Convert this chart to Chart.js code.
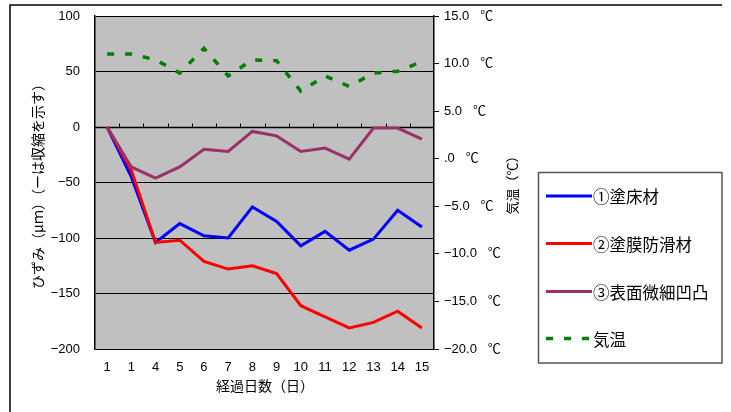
<!DOCTYPE html>
<html>
<head>
<meta charset="utf-8">
<script src="https://cdn.jsdelivr.net/npm/chart.js@4"></script>
<style>
html,body{margin:0;padding:0;background:#fff;}
#wrap{position:relative;width:731px;height:412px;}
</style>
</head>
<body>
<div id="wrap"><canvas id="c" width="731" height="412"></canvas></div>
<script>
const categories = ['1','1','4','5','6','7','8','9','10','11','12','13','14','15'];
const floorCoat = [0,-45,-104,-87,-98,-100,-72,-85,-107,-94,-111,-101,-75,-90];
const antiSlip  = [0,-39,-104,-102,-121,-128,-125,-132,-161,-171,-181,-176,-166,-181];
const microTex  = [0,-36,-46,-36,-20,-22,-4,-8,-22,-19,-29,-1,-1,-11];
const airTemp   = [11.0,11.0,10.4,9.0,11.6,8.7,10.4,10.3,7.1,8.7,7.6,9.0,9.2,10.2];
const strainTicks = [100,50,0,-50,-100,-150,-200];
const tempTicks = [15,10,5,0,-5,-10,-15,-20];
const seriesNames = ['①塗床材','②塗膜防滑材','③表面微細凹凸','気温'];

const NUM_FONT = 'Liberation Sans, Arial, "Noto Sans CJK JP", sans-serif';
const JP_FONT = '"Noto Sans CJK JP", "Liberation Sans", sans-serif';

function fmtStrain(v){ return v < 0 ? '\u2212' + Math.abs(v) : String(v); }
function fmtTemp(v){
  const a = Math.abs(v);
  const s = v === 0 ? '.0' : a.toFixed(1);
  return (v < 0 ? '\u2212' : '') + s + '   \u2103';
}

const decor = {
  id: 'decor',
  beforeDraw(chart){
    const {ctx, chartArea:a} = chart;
    ctx.save();
    ctx.fillStyle = '#c0c0c0';
    ctx.fillRect(a.left, a.top, a.right - a.left, a.bottom - a.top);
    ctx.restore();
  },
  beforeDatasetsDraw(chart){
    const {ctx, chartArea:a, scales} = chart;
    const y0 = Math.round(scales.y.getPixelForValue(0)) + 0.5;
    ctx.save();
    ctx.strokeStyle = '#000';
    ctx.lineWidth = 1.5;
    ctx.beginPath(); ctx.moveTo(a.left, y0); ctx.lineTo(a.right, y0); ctx.stroke();
    ctx.lineWidth = 1;
    const x = scales.x;
    for (let i = 1; i < categories.length; i++){
      const px = Math.round((x.getPixelForValue(i-1) + x.getPixelForValue(i)) / 2) + 0.5;
      ctx.beginPath(); ctx.moveTo(px, y0); ctx.lineTo(px, y0 - 4); ctx.stroke();
    }
    ctx.restore();
  },
  afterDraw(chart){
    const {ctx, chartArea:a} = chart;
    ctx.save();
    ctx.strokeStyle = '#000';
    ctx.lineWidth = 1.5;
    ctx.beginPath(); ctx.moveTo(10, 420); ctx.lineTo(10, 5); ctx.lineTo(722, 5); ctx.stroke();
    ctx.fillStyle = '#000';
    ctx.textAlign = 'center';
    ctx.textBaseline = 'middle';
    ctx.font = '14px ' + JP_FONT;
    ctx.save(); ctx.translate(38, 183); ctx.rotate(-Math.PI/2);
    ctx.fillText('ひずみ（μｍ）（ーは収縮を示す）', 0, 0); ctx.restore();
    ctx.font = '13px ' + JP_FONT;
    ctx.save(); ctx.translate(512, 182); ctx.rotate(-Math.PI/2);
    ctx.fillText('気温（℃）', 0, 0); ctx.restore();
    ctx.font = '14px ' + JP_FONT;
    ctx.fillText('経過日数（日）', 265, 386);
    ctx.strokeStyle = '#555';
    ctx.lineWidth = 1.5;
    ctx.strokeRect(538.5, 172.5, 183.5, 190.5);
    const ds = chart.data.datasets;
    const ys = [196, 243.5, 291.5, 338.5];
    ctx.textAlign = 'left';
    ctx.font = '16.5px ' + JP_FONT;
    for (let i = 0; i < ds.length; i++){
      ctx.save();
      ctx.strokeStyle = ds[i].borderColor;
      ctx.lineWidth = ds[i].borderWidth;
      ctx.setLineDash(ds[i].borderDash || []);
      ctx.beginPath(); ctx.moveTo(546, ys[i]); ctx.lineTo(592, ys[i]); ctx.stroke();
      ctx.restore();
      ctx.fillStyle = '#000';
      ctx.fillText(ds[i].label, 593, ys[i] + 1);
    }
    ctx.restore();
  }
};

function noVPad(s){ s.paddingTop = 0; s.paddingBottom = 0; }

new Chart(document.getElementById('c'), {
  type: 'line',
  data: {
    labels: categories,
    datasets: [
      {label: seriesNames[0], data: floorCoat, yAxisID: 'y', borderColor: '#0000ff', borderWidth: 3, pointRadius: 0, order: 3},
      {label: seriesNames[1], data: antiSlip, yAxisID: 'y', borderColor: '#ff0000', borderWidth: 3, pointRadius: 0, order: 2},
      {label: seriesNames[2], data: microTex, yAxisID: 'y', borderColor: '#993366', borderWidth: 3, pointRadius: 0, order: 1},
      {label: seriesNames[3], data: airTemp, yAxisID: 'y2', borderColor: '#008000', borderWidth: 3.5, borderDash: [7, 11], pointRadius: 0, order: 0}
    ]
  },
  options: {
    responsive: false,
    animation: false,
    devicePixelRatio: 1,
    layout: {padding: {top: 16, left: 0, right: 0, bottom: 0}},
    plugins: {legend: {display: false}, tooltip: {enabled: false}},
    elements: {line: {tension: 0, borderCapStyle: 'butt', borderJoinStyle: 'miter'}},
    scales: {
      x: {
        type: 'category',
        offset: true,
        grid: {display: false, drawTicks: false},
        border: {display: false},
        ticks: {color: '#000', font: {family: NUM_FONT, size: 13}, padding: 11, maxRotation: 0, autoSkip: false},
        afterFit(s){ s.height = 63; s.paddingLeft = 0; s.paddingRight = 0; }
      },
      y: {
        position: 'left',
        min: -200, max: 100,
        afterBuildTicks(s){ s.ticks = strainTicks.map(v => ({value: v})); },
        grid: {color: '#000', lineWidth: 1, drawTicks: false},
        border: {display: true, color: '#000', width: 1.5},
        ticks: {color: '#000', font: {family: NUM_FONT, size: 13}, padding: 15, callback: v => fmtStrain(v)},
        afterFit(s){ s.width = 95; noVPad(s); }
      },
      y2: {
        position: 'right',
        min: -20, max: 15,
        afterBuildTicks(s){ s.ticks = tempTicks.map(v => ({value: v})); },
        grid: {drawOnChartArea: false, drawTicks: true, tickLength: 5, color: '#000'},
        border: {display: true, color: '#000', width: 1.5},
        ticks: {color: '#000', font: {family: NUM_FONT, size: 13}, padding: 5, callback: v => fmtTemp(v)},
        afterFit(s){ s.width = 297; noVPad(s); }
      }
    }
  },
  plugins: [decor]
});
</script>
</body>
</html>
